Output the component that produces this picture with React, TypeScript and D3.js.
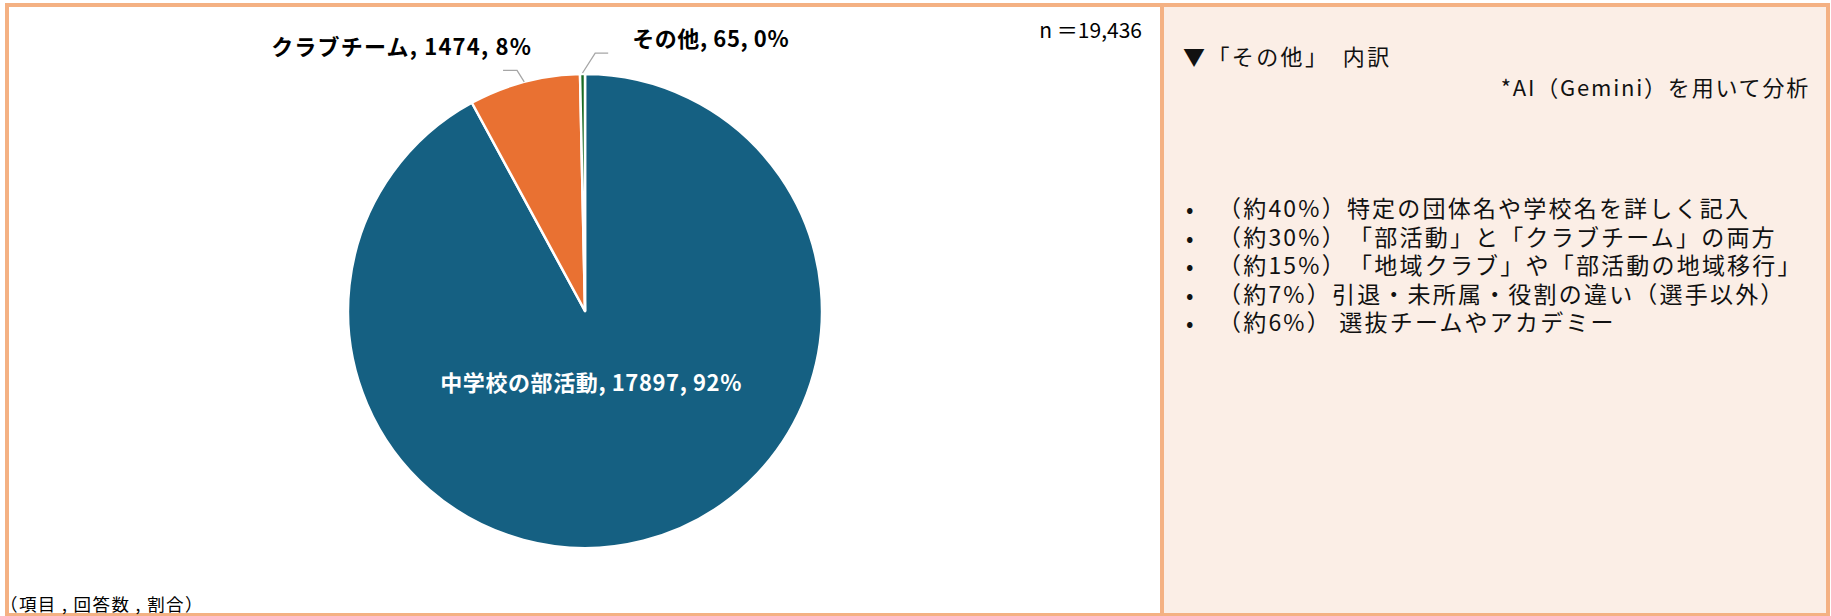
import React from "react";
import * as d3 from "d3";

const categories = ["中学校の部活動", "クラブチーム", "その他"];
const counts = [17897, 1474, 65];
const percentLabels = ["92%", "8%", "0%"];
const sliceColors = ["#156082", "#E97132", "#196B24"];
const totalLabel = "n ＝19,436";
const breakdownTitle = "▼「その他」　内訳";
const breakdownNote = "*AI（Gemini）を用いて分析";
const breakdownItems = [
  "（約40%）特定の団体名や学校名を詳しく記入",
  "（約30%）　「部活動」と「クラブチーム」の両方",
  "（約15%）　「地域クラブ」や「部活動の地域移行」",
  "（約7%）引退・未所属・役割の違い（選手以外）",
  "（約6%）  選抜チームやアカデミー",
];
const footnote = "（項目 , 回答数 , 割合）";

const W = 1831;
const H = 616;
const BORDER = "#F4B183";
const FONT = "'Noto Sans CJK JP', 'Noto Sans', sans-serif";

export default function App() {
  const cx = 585;
  const cy = 311;
  const r = 237;
  const pie = d3.pie<number>().sort(null).value((d) => d)(counts);
  const arc = d3.arc<d3.PieArcDatum<number>>().innerRadius(0).outerRadius(r);

  const pointAt = (angle: number, radius: number): [number, number] => [
    Math.sin(angle) * radius,
    -Math.cos(angle) * radius,
  ];

  const clubMid = (pie[1].startAngle + pie[1].endAngle) / 2;
  const otherMid = (pie[2].startAngle + pie[2].endAngle) / 2;
  const clubEdge = pointAt(clubMid, r);
  const clubElbow = pointAt(clubMid - 0.016, r + 13);
  const clubEnd: [number, number] = [clubElbow[0] - 14, clubElbow[1]];
  const otherEdge = pointAt(otherMid, r + 1);
  const otherElbow = pointAt(otherMid + 0.05, r + 21);
  const otherEnd: [number, number] = [otherElbow[0] + 13, otherElbow[1]];
  const line = d3.line();

  const fmt = (i: number) => `${categories[i]}, ${counts[i]}, ${percentLabels[i]}`;
  const mainCentroid = d3
    .arc<d3.PieArcDatum<number>>()
    .innerRadius(0)
    .outerRadius(r * 0.62)
    .centroid(pie[0]);

  return (
    <svg
      width={W}
      height={H}
      style={{ position: "absolute", left: 0, top: 0, display: "block" }}
      fontFamily={FONT}
    >
      <rect x={0} y={0} width={W} height={H} fill="#ffffff" />
      <rect x={1164} y={7} width={662} height={606} fill="#FBEEE6" />
      <rect x={7} y={5} width={1821} height={610} fill="none" stroke={BORDER} strokeWidth={4} />
      <line x1={1162} y1={3} x2={1162} y2={616} stroke={BORDER} strokeWidth={4} />

      <g transform={`translate(${cx},${cy})`}>
        {pie.map((d, i) => (
          <path
            key={i}
            d={arc(d) || ""}
            fill={sliceColors[i]}
            stroke="#ffffff"
            strokeWidth={2.5}
            strokeLinejoin="round"
          />
        ))}
        <path d={line([clubEdge, clubElbow, clubEnd]) || ""} fill="none" stroke="#A6A6A6" strokeWidth={1.3} />
        <path d={line([otherEdge, otherElbow, otherEnd]) || ""} fill="none" stroke="#A6A6A6" strokeWidth={1.3} />
        <text
          x={mainCentroid[0] - 12}
          y={80}
          fill="#ffffff"
          fontSize={22}
          fontWeight={700}
          letterSpacing={0.6}
          textAnchor="middle"
        >
          {fmt(0)}
        </text>
        <text
          x={clubEnd[0] + 29}
          y={clubEnd[1] - 15}
          fill="#000"
          fontSize={22}
          fontWeight={700}
          letterSpacing={1.2}
          textAnchor="end"
        >
          {fmt(1)}
        </text>
        <text
          x={otherEnd[0] + 24}
          y={otherEnd[1] - 6}
          fill="#000"
          fontSize={22}
          fontWeight={700}
          letterSpacing={0.6}
          textAnchor="start"
        >
          {fmt(2)}
        </text>
      </g>

      <text x={1142} y={38} fontSize={21} fill="#000" textAnchor="end">
        {totalLabel}
      </text>

      <text x={0} y={611} fontSize={17.5} letterSpacing={1.4} fill="#000">
        {footnote}
      </text>

      <text x={1183} y={65} fontSize={22} letterSpacing={2.4} fill="#111">
        {breakdownTitle}
      </text>
      <text x={1810} y={96} fontSize={22} letterSpacing={1.8} fill="#111" textAnchor="end">
        {breakdownNote}
      </text>
      {breakdownItems.map((t, i) => (
        <g key={i}>
          <text x={1186} y={217 + i * 28.5} fontSize={22} fill="#111">
            •
          </text>
          <text x={1218} y={217 + i * 28.5} fontSize={23} letterSpacing={2.2} fill="#111">
            {t}
          </text>
        </g>
      ))}
    </svg>
  );
}
